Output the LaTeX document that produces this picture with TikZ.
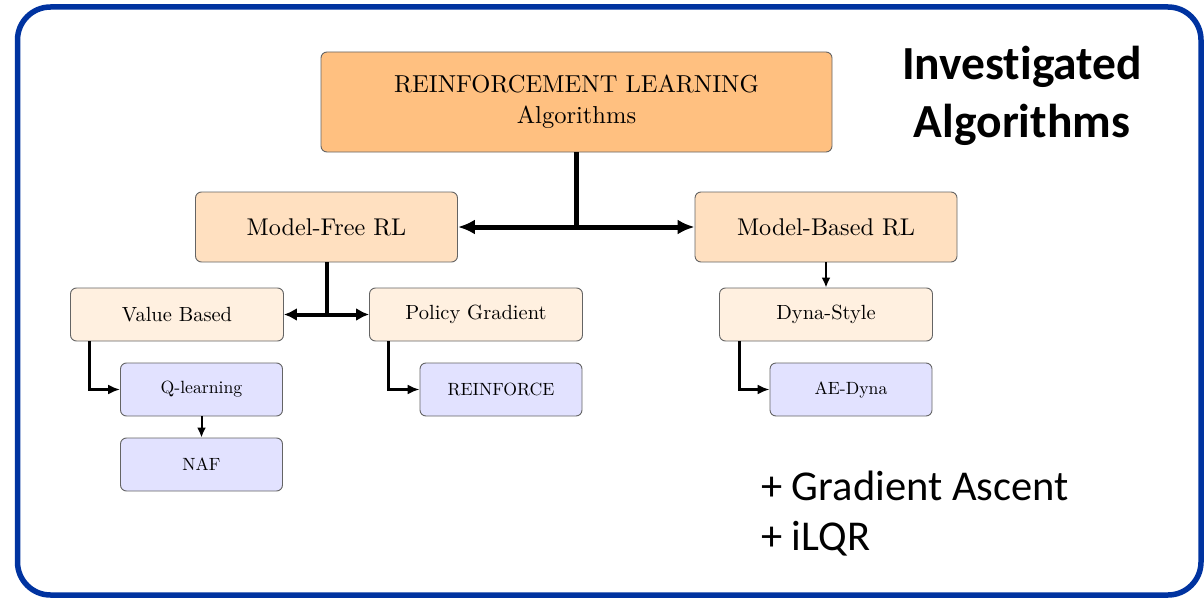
\documentclass[tikz,border=0pt]{standalone}
\usepackage{fontspec}
\newfontfamily\carlito{Carlito}[Ligatures=NoCommon]
\newfontfamily\lmten{lmroman10-regular.otf}
\usetikzlibrary{arrows.meta,calc}
\definecolor{frameblue}{RGB}{0,51,160}
\definecolor{topfill}{RGB}{255,192,128}
\definecolor{midfill}{RGB}{255,224,192}
\definecolor{lowfill}{RGB}{255,240,224}
\definecolor{leaffill}{RGB}{226,226,255}
\definecolor{boxline}{RGB}{100,100,100}
\tikzset{
  box/.style={draw=boxline, line width=0.9pt, rounded corners=6pt, inner sep=0pt, align=center, text=black},
  topbox/.style={box, fill=topfill, minimum width=511pt, minimum height=100pt, font=\lmten\fontsize{24.5}{31}\selectfont},
  midbox/.style={box, fill=midfill, minimum width=262pt, minimum height=70pt, font=\lmten\fontsize{24.2}{29}\selectfont},
  lowbox/.style={box, fill=lowfill, minimum width=213pt, minimum height=53pt, font=\lmten\fontsize{20.5}{24}\selectfont},
  leafbox/.style={box, fill=leaffill, minimum width=162pt, minimum height=53pt, font=\lmten\fontsize{17.7}{21}\selectfont},
  conA/.style={line width=5pt},
  conB/.style={line width=4pt},
  conC/.style={line width=3pt, -{Latex[length=12pt,width=10pt]}},
  conD/.style={line width=2pt, -{Latex[length=10pt,width=9pt]}},
  tipA/.style={{Latex[length=17pt,width=15pt]}-{Latex[length=17pt,width=15pt]}},
  tipB/.style={{Latex[length=13pt,width=13pt]}-{Latex[length=13pt,width=13pt]}},
  bigtext/.style={font=\carlito\bfseries\fontsize{47.5}{57}\selectfont, inner sep=0pt, anchor=base},
  sidetext/.style={font=\carlito\fontsize{42.5}{50}\selectfont, inner sep=0pt, anchor=base west}
}
\begin{document}
\begin{tikzpicture}[x=1pt,y=-1pt]
\useasboundingbox (0,0) rectangle (1204,599);
\draw[frameblue, line width=5.5pt, rounded corners=33pt] (17.5,7) rectangle (1201,595);

\node[topbox] (rl) at (576.5,102) {REINFORCEMENT LEARNING\\Algorithms};
\node[midbox] (mf) at (326.5,227) {Model-Free RL};
\node[midbox] (mb) at (826,227) {Model-Based RL};
\node[lowbox] (vb) at (177,314.5) {Value Based};
\node[lowbox] (pg) at (476,314.5) {Policy Gradient};
\node[lowbox] (ds) at (826,314.5) {Dyna-Style};
\node[leafbox] (ql) at (201.5,389.5) {Q-learning};
\node[leafbox] (re) at (501,389.5) {REINFORCE};
\node[leafbox] (ae) at (851,389.5) {AE-Dyna};
\node[leafbox] (naf) at (201.5,464.5) {NAF};

\draw[conA] (rl.south) -- (rl.south |- mf.east) coordinate (j1);
\draw[conA, tipA] (mf.east) -- (mb.west);
\draw[conB] (mf.south) -- (mf.south |- vb.east) coordinate (j2);
\draw[conB, tipB] (vb.east) -- (pg.west);
\draw[conD] (mb.south) -- (ds.north);
\draw[conC] ([xshift=19pt]vb.south west) |- (ql.west);
\draw[conC] ([xshift=19pt]pg.south west) |- (re.west);
\draw[conC] ([xshift=20pt]ds.south west) |- (ae.west);
\draw[conD] (ql.south) -- (naf.north);

\node[bigtext] (t1) at (1022,80) {Investigated};
\node[bigtext] (t2) at (1022,137) {Algorithms};
\node[sidetext] (s1) at (761,500) {+ Gradient Ascent};
\node[sidetext] (s2) at (761,550) {+ iLQR};
\end{tikzpicture}
\end{document}
